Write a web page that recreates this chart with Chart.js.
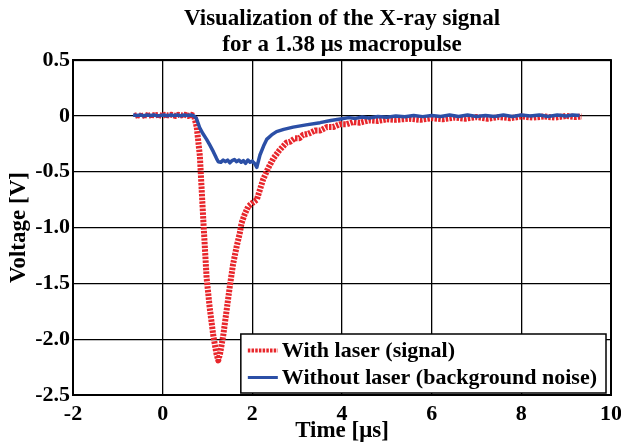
<!DOCTYPE html>
<html>
<head>
<meta charset="utf-8">
<script src="https://cdn.jsdelivr.net/npm/chart.js@4/dist/chart.umd.min.js"></script>
<style>
  html, body { margin: 0; padding: 0; background: #fff; }
  #wrap { width: 621px; height: 445px; }
</style>
</head>
<body>
<div id="wrap"><canvas id="chart" width="621" height="445"></canvas></div>
<script>
// Values (time in µs, voltage in V)
const signalTime = [
  -0.62, -0.55, -0.48, -0.4, -0.32, -0.25, -0.18, -0.1, -0.02, 0.05, 0.12, 0.2, 0.28, 0.35,
  0.42, 0.5, 0.57, 0.64, 0.7, 0.76, 0.83, 0.91, 0.98, 1.05, 1.13, 1.2, 1.24, 1.28, 1.35,
  1.43, 1.5, 1.57, 1.65, 1.72, 1.76, 1.83, 1.91, 2.0, 2.1, 2.17, 2.24, 2.35, 2.47, 2.6,
  2.76, 2.85, 2.95, 3.05, 3.13, 3.25, 3.4, 3.52, 3.66, 3.8, 3.95, 4.1, 4.25, 4.4, 4.6, 4.8,
  5.0, 5.2, 5.5, 5.75, 6.0, 6.25, 6.5, 6.75, 7.0, 7.25, 7.5, 7.75, 8.0, 8.25, 8.5, 8.75,
  9.0, 9.2, 9.35
]
const signalVoltage = [
  0.0, 0.01, -0.005, 0.01, 0.0, 0.01, 0.005, 0.01, 0.0, 0.01, 0.005, 0.01, 0.0, 0.01,
  0.005, 0.01, 0.0, 0.01, 0.0, -0.1, -0.36, -0.96, -1.45, -1.72, -1.97, -2.13, -2.19, -2.13, -1.97,
  -1.73, -1.52, -1.33, -1.17, -1.05, -0.96, -0.88, -0.81, -0.78, -0.75, -0.66, -0.57, -0.47, -0.38, -0.31,
  -0.24, -0.23, -0.2, -0.2, -0.17, -0.16, -0.13, -0.13, -0.1, -0.1, -0.075, -0.075, -0.055, -0.06, -0.04, -0.045,
  -0.03, -0.035, -0.025, -0.035, -0.02, -0.03, -0.015, -0.025, -0.01, -0.025, -0.01, -0.02, -0.005, -0.015, -0.005, -0.015,
  0.0, -0.01, -0.005
]
const noiseTime = [
  -0.66, -0.58, -0.5, -0.42, -0.35, -0.27, -0.2, -0.12, -0.05, 0.03, 0.1, 0.18, 0.25, 0.33,
  0.4, 0.48, 0.55, 0.63, 0.7, 0.75, 0.83, 0.9, 0.98, 1.05, 1.13, 1.2, 1.24, 1.3, 1.35, 1.4, 1.45, 1.5,
  1.55, 1.6, 1.65, 1.7, 1.75, 1.8, 1.85, 1.9, 1.95, 2.0, 2.05, 2.1, 2.17, 2.25, 2.32, 2.43, 2.54, 2.7, 2.91, 3.2, 3.51,
  3.75, 4.0, 4.15, 4.3, 4.45, 4.6, 4.8, 5.0, 5.2, 5.4, 5.6, 5.8, 6.0, 6.2, 6.4, 6.6, 6.8, 7.0, 7.2, 7.4, 7.6,
  7.8, 8.0, 8.2, 8.4, 8.6, 8.8, 9.0, 9.15, 9.3
]
const noiseVoltage = [
  0.008, 0.004, 0.008, 0.002, 0.008, 0.004, 0.008, 0.002, 0.004, 0.008, 0.002, 0.008, 0.004, 0.008,
  0.002, 0.008, 0.004, 0.008, 0.0, -0.02, -0.11, -0.16, -0.21, -0.26, -0.32, -0.38, -0.41, -0.415, -0.395, -0.41, -0.395, -0.42,
  -0.4, -0.39, -0.41, -0.395, -0.415, -0.4, -0.425, -0.395, -0.415, -0.405, -0.425, -0.46, -0.35, -0.27, -0.21, -0.17, -0.14, -0.12, -0.1, -0.08, -0.06,
  -0.04, -0.025, -0.015, -0.022, -0.01, -0.018, -0.005, -0.012, 0.0, -0.008, 0.004, -0.006, 0.004, -0.004, 0.008, -0.004, 0.008, -0.004, 0.005,
  -0.004, 0.008, -0.004, 0.008, 0.0, 0.008, -0.004, 0.008, 0.0, 0.008, 0.004
]
const xTicks = [-2, 0, 2, 4, 6, 8, 10]
const yTicks = [0.5, 0, -0.5, -1, -1.5, -2, -2.5]
const seriesLabels = ['With laser (signal)', 'Without laser (background noise)']

const RED = '#e8262b'
const BLUE = '#2b4fa6'
const FONT = "'Liberation Serif', 'Times New Roman', serif"

function points (xs, ys) {
  return xs.map((x, i) => ({ x, y: ys[i] }))
}

// legend drawn inside the plot, lower right, like the original
const insideLegend = {
  id: 'insideLegend',
  afterDraw (chart) {
    const { ctx, chartArea } = chart
    const sets = chart.data.datasets
    ctx.save()
    ctx.font = 'bold 22px ' + FONT
    const textW = Math.max(...sets.map(d => ctx.measureText(d.label).width))
    const sample = 30
    const w = 7 + sample + 4 + textW + 9
    const rowH = 27
    const h = rowH * sets.length + 5
    const right = chartArea.right - 5
    const bottom = chartArea.bottom - 2
    const left = right - w
    const top = bottom - h
    ctx.fillStyle = '#fff'
    ctx.fillRect(left, top, w, h)
    ctx.strokeStyle = '#000'
    ctx.lineWidth = 1.5
    ctx.strokeRect(left, top, w, h)
    sets.forEach((d, i) => {
      const cy = top + 3 + rowH * i + rowH / 2
      ctx.beginPath()
      ctx.strokeStyle = d.borderColor
      ctx.lineWidth = i === 0 ? 4 : 3
      ctx.setLineDash(d.borderDash || [])
      ctx.moveTo(left + 7, cy)
      ctx.lineTo(left + 7 + sample, cy)
      ctx.stroke()
      ctx.setLineDash([])
      ctx.fillStyle = '#000'
      ctx.textBaseline = 'middle'
      ctx.fillText(d.label, left + 7 + sample + 4, cy + 1)
    })
    ctx.restore()
  }
}

// full black frame around the axes
const frame = {
  id: 'frame',
  afterDatasetsDraw (chart) {
    const { ctx, chartArea } = chart
    ctx.save()
    ctx.strokeStyle = '#000'
    ctx.lineWidth = 2
    ctx.strokeRect(chartArea.left, chartArea.top, chartArea.width, chartArea.height)
    ctx.restore()
  }
}

new Chart(document.getElementById('chart'), {
  type: 'line',
  data: {
    datasets: [
      {
        label: seriesLabels[0],
        data: points(signalTime, signalVoltage),
        borderColor: RED,
        borderWidth: 6,
        borderDash: [2.5, 1.2],
        borderCapStyle: 'butt',
        borderJoinStyle: 'round',
        pointRadius: 0,
        tension: 0,
        order: 2
      },
      {
        label: seriesLabels[1],
        data: points(noiseTime, noiseVoltage),
        borderColor: BLUE,
        borderWidth: 3.5,
        borderJoinStyle: 'round',
        pointRadius: 0,
        tension: 0,
        order: 1
      }
    ]
  },
  options: {
    responsive: false,
    animation: false,
    layout: { padding: { left: 5, right: 10, top: 0, bottom: 0 } },
    plugins: {
      legend: { display: false },
      tooltip: { enabled: false },
      title: {
        display: true,
        fullSize: false,
        text: ['Visualization of the X-ray signal', 'for a 1.38 μs macropulse'],
        color: '#000',
        font: { family: FONT, size: 23, weight: 'bold', lineHeight: 1.09 },
        padding: { top: 7, bottom: 3 }
      }
    },
    scales: {
      x: {
        type: 'linear',
        min: -2,
        max: 10,
        afterBuildTicks: (axis) => { axis.ticks = xTicks.map(v => ({ value: v })) },
        afterFit: (axis) => {
          axis.height = 50
          axis.paddingLeft = 0
          axis.paddingRight = 0
        },
        ticks: { color: '#000', font: { family: FONT, size: 22, weight: 'bold' }, padding: 6, maxRotation: 0 },
        grid: { color: '#000', lineWidth: 1.3, drawTicks: false },
        border: { color: '#000', width: 2 },
        title: {
          display: true,
          text: 'Time [μs]',
          color: '#000',
          font: { family: FONT, size: 23, weight: 'bold' },
          padding: { top: 0, bottom: 0 }
        }
      },
      y: {
        type: 'linear',
        min: -2.5,
        max: 0.5,
        afterBuildTicks: (axis) => { axis.ticks = yTicks.map(v => ({ value: v })) },
        afterFit: (axis) => {
          axis.width = 68
          axis.paddingTop = 0
          axis.paddingBottom = 0
        },
        ticks: { color: '#000', font: { family: FONT, size: 22, weight: 'bold' }, padding: 3 },
        grid: { color: '#000', lineWidth: 1.3, drawTicks: false },
        border: { color: '#000', width: 2 },
        title: {
          display: true,
          text: 'Voltage [V]',
          color: '#000',
          font: { family: FONT, size: 23, weight: 'bold' },
          padding: { top: 0, bottom: 0 }
        }
      }
    }
  },
  plugins: [insideLegend, frame]
})
</script>
</body>
</html>
